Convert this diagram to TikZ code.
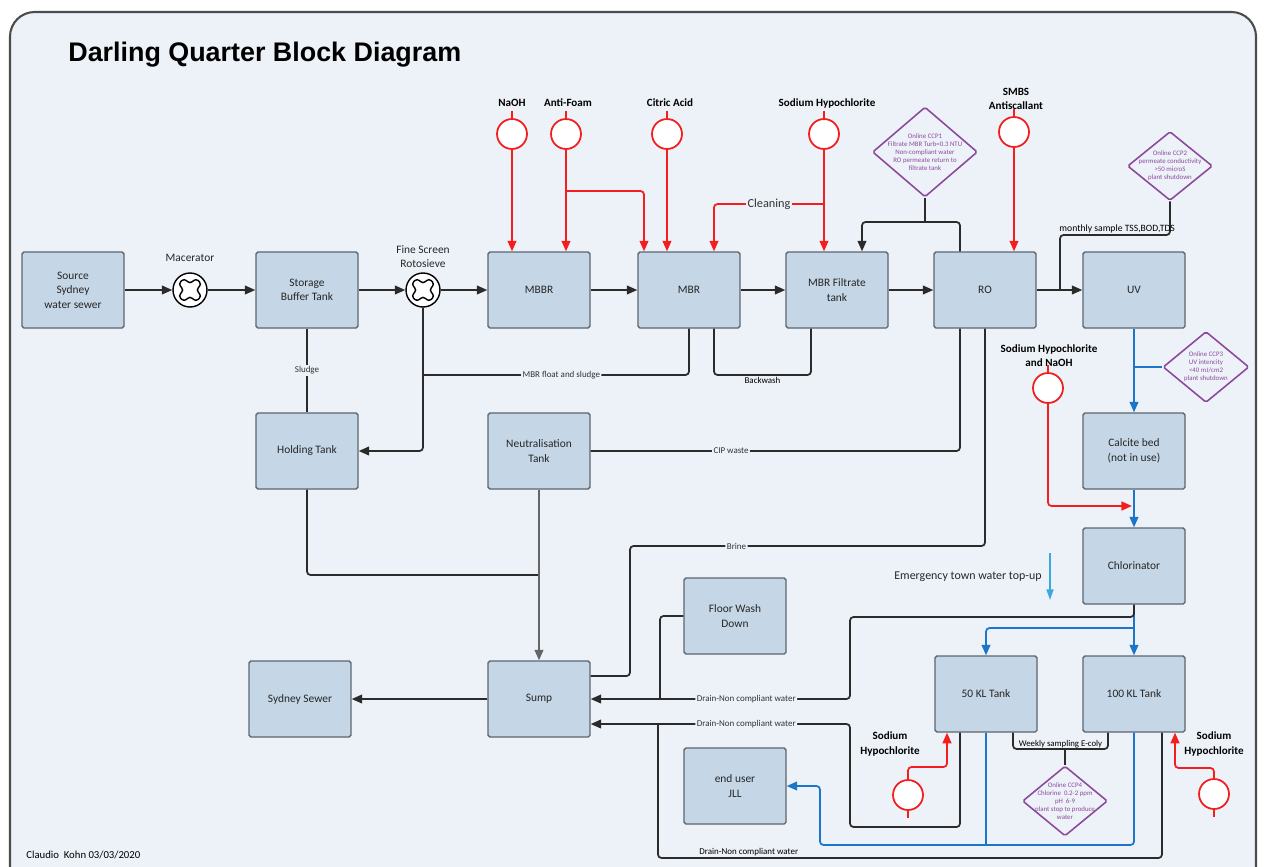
\documentclass[tikz,border=0pt]{standalone}
\usepackage{fontspec}
\setmainfont{Carlito}
\newfontfamily\titlefont{Liberation Sans}
\usetikzlibrary{arrows.meta,shapes.geometric}

\definecolor{bgcol}{HTML}{EDF2F9}
\definecolor{boxcol}{HTML}{C5D6E6}
\definecolor{boxline}{HTML}{5C6670}
\definecolor{chemred}{HTML}{F51E1E}
\definecolor{waterblue}{HTML}{1C75C8}
\definecolor{townblue}{HTML}{3AA9E2}
\definecolor{ccppurple}{HTML}{8C4A9C}
\definecolor{pipe}{HTML}{2B2B2B}

\begin{document}
\begin{tikzpicture}[x=0.02cm, y=-0.02cm,
  block_node/.style={rectangle, draw=boxline, fill=boxcol, line width=0.8pt, rounded corners=1pt, minimum width=2.04cm, minimum height=1.52cm, align=center, font=\fontsize{6.5}{8.2}\selectfont, text=black!85},
  screen_node/.style={circle, draw=black, fill=white, line width=0.8pt, minimum size=0.68cm, inner sep=0pt},
  dose_node/.style={circle, draw=chemred, fill=white, line width=1pt, minimum size=0.6cm, inner sep=0pt},
  ccp_node/.style={diamond, draw=ccppurple, fill=bgcol, line width=0.9pt, inner sep=0pt, rounded corners=1pt},
  ccp_text/.style={text=ccppurple, align=center, font=\fontsize{3.9}{4.6}\selectfont, inner sep=0pt},
  chem_label/.style={align=center, inner sep=0pt, font=\bfseries\fontsize{6.3}{8}\selectfont},
  plain_label/.style={align=center, inner sep=0pt, font=\fontsize{6.5}{8}\selectfont, text=black!85},
  pipe_label/.style={fill=bgcol, inner sep=0.8pt, font=\fontsize{5.1}{6}\selectfont, text=black!80},
  flow/.style={draw=pipe, line width=1pt, rounded corners=2pt},
  flow_arrow/.style={flow, -{Triangle[length=6pt,width=5pt]}},
  dose/.style={draw=chemred, line width=1pt, rounded corners=2pt},
  dose_arrow/.style={dose, -{Triangle[length=6pt,width=5pt]}},
  product/.style={draw=waterblue, line width=1pt, rounded corners=2pt},
  product_arrow/.style={product, -{Triangle[length=6pt,width=5pt]}}]

\useasboundingbox (0,0) rectangle (1264,866);
\clip (0,0) rectangle (1264,866);
\fill[white] (0,0) rectangle (1264,866);
\draw[draw=black!70, fill=bgcol, line width=1.2pt, rounded corners=14pt] (10,12) rectangle (1256,920);

\node[anchor=west, inner sep=0pt, font=\titlefont\bfseries\fontsize{15.3}{18}\selectfont] (title) at (68,55) {Darling Quarter Block Diagram};
\node[anchor=west, inner sep=0pt, font=\fontsize{6.1}{7}\selectfont] (author) at (26,855) {Claudio~ Kohn 03/03/2020};

% process blocks
\node[block_node] (src) at (73,290) {Source\\Sydney\\water sewer};
\node[block_node] (store) at (307,290) {Storage\\Buffer Tank};
\node[block_node] (mbbr) at (539,290) {MBBR};
\node[block_node] (mbr) at (689,290) {MBR};
\node[block_node] (mft) at (837,290) {MBR Filtrate\\tank};
\node[block_node] (ro) at (985,290) {RO};
\node[block_node] (uv) at (1134,290) {UV};
\node[block_node] (hold) at (307,451) {Holding Tank};
\node[block_node] (neut) at (539,451) {Neutralisation\\Tank};
\node[block_node] (calc) at (1134,451) {Calcite bed\\(not in use)};
\node[block_node] (chl) at (1134,566) {Chlorinator};
\node[block_node] (floor) at (735,616) {Floor Wash\\Down};
\node[block_node] (sewer) at (300,699) {Sydney Sewer};
\node[block_node] (sump) at (539,699) {Sump};
\node[block_node] (t50) at (986,694) {50 KL Tank};
\node[block_node] (t100) at (1134,694) {100 KL Tank};
\node[block_node] (user) at (735,786) {end user\\JLL};

% screens
\node[screen_node] (mac) at (190,290) {};
\node[screen_node] (fs) at (423,290) {};
\node[plain_label] (mac_lbl) at (190,258) {Macerator};
\node[plain_label] (fs_lbl) at (423,257) {Fine Screen\\Rotosieve};
\foreach \s in {mac,fs}
  \draw[line width=0.8pt, rounded corners=2pt, shift={(\s)}, rotate=45]
    (4.2,12.5) -- (4.2,4.2) -- (12.5,4.2) -- (12.5,-4.2) -- (4.2,-4.2) -- (4.2,-12.5) -- (-4.2,-12.5)
    -- (-4.2,-4.2) -- (-12.5,-4.2) -- (-12.5,4.2) -- (-4.2,4.2) -- (-4.2,12.5) -- cycle;

% dosing
\node[dose_node] (naoh) at (512,134) {};
\node[dose_node] (foam) at (566,134) {};
\node[dose_node] (citric) at (667,134) {};
\node[dose_node] (hypo) at (824,134) {};
\node[dose_node] (smbs) at (1014,132) {};
\node[dose_node] (hypo_naoh) at (1048,388) {};
\node[dose_node] (hypo50) at (908,795) {};
\node[dose_node] (hypo100) at (1214,794) {};
\node[chem_label] (naoh_lbl) at (512,103) {NaOH};
\node[chem_label] (foam_lbl) at (568,103) {Anti-Foam};
\node[chem_label] (citric_lbl) at (670,103) {Citric Acid};
\node[chem_label] (hypo_lbl) at (827,103) {Sodium Hypochlorite};
\node[chem_label] (smbs_lbl) at (1016,99) {SMBS\\Antiscallant};
\node[chem_label] (hn_lbl) at (1049,356) {Sodium Hypochlorite\\and NaOH};
\node[chem_label] (h50_lbl) at (890,744) {Sodium\\Hypochlorite};
\node[chem_label] (h100_lbl) at (1214,744) {Sodium\\Hypochlorite};

% control points
\node[ccp_node, minimum width=2.1cm, minimum height=1.8cm] (ccp1) at (925,152) {};
\node[ccp_text] (ccp1_txt) at (ccp1) {Online CCP1\\Filtrate MBR Turb=0.3 NTU\\Non-compliant water\\RO permeate return to\\filtrate tank};
\node[ccp_node, minimum width=1.7cm, minimum height=1.38cm] (ccp2) at (1170,166) {};
\node[ccp_text] (ccp2_txt) at (ccp2) {Online CCP2\\permeate conductivity\\>50 microS\\plant shutdown};
\node[ccp_node, minimum width=1.72cm, minimum height=1.42cm] (ccp3) at (1206,367) {};
\node[ccp_text] (ccp3_txt) at (ccp3) {Online CCP3\\UV intencity\\<40 mJ/cm2\\plant shutdown};
\node[ccp_node, minimum width=1.7cm, minimum height=1.4cm] (ccp4) at (1065,801) {};
\node[ccp_text] (ccp4_txt) at (ccp4) {Online CCP4\\Chlorine~ 0.2-2 ppm\\pH~ 6-9\\plant stop to produce\\water};

\node[plain_label, font=\fontsize{6.8}{8}\selectfont] (em_lbl) at (968,577) {Emergency town water top-up};

\coordinate (foam_br) at (566,191);
\coordinate (clean_br) at (824,204);
\coordinate (ccp1_j) at (925,222);
\coordinate (ccp2_j) at (1060,235);
\coordinate (float_j) at (423,375);
\coordinate (bw_a) at (714,375);
\coordinate (bw_b) at (811,375);
\coordinate (hold_j) at (539,575);
\coordinate (brine_c) at (630,546);
\coordinate (hn_end) at (1132,506);
\coordinate (em_top) at (1050,553);
\coordinate (em_bot) at (1050,600);
\coordinate (blue_j) at (1134,628);
\coordinate (drain1_c) at (850,617);
\coordinate (floor_j) at (660,699);
\coordinate (drain2_c) at (850,827);
\coordinate (drain3_c) at (658,858);
\coordinate (drain3_j) at (658,724);
\coordinate (blue_b) at (820,845);
\coordinate (wk_b) at (1108,749);
\coordinate (hypo50_c) at (908,767);
\coordinate (hypo100_c) at (1214,768);

\foreach \a/\b in {src/mac, mac/store, store/fs, fs/mbbr, mbbr/mbr, mbr/mft, mft/ro, ro/uv}
  \draw[flow_arrow] (\a) -- (\b);

\foreach \d in {naoh,foam,citric,hypo,smbs,hypo_naoh}
  \draw[dose] (\d.north) -- ++(0,-7);
\foreach \d in {hypo50,hypo100}
  \draw[dose] (\d.south) -- ++(0,7);
\foreach \d/\t in {naoh/mbbr, foam/mbbr, citric/mbr, hypo/mft, smbs/ro}
  \draw[dose_arrow] (\d.south) -- (\d.south |- \t.north);
\draw[dose_arrow] (foam_br) -| ([xshift=-0.9cm]mbr.north);
\draw[dose_arrow] (clean_br) -| node[pos=0.25, pipe_label, font=\fontsize{7}{8}\selectfont]{Cleaning} ([xshift=0.5cm]mbr.north);
\draw[dose_arrow] (hypo_naoh.south) |- (hn_end);
\draw[dose_arrow] (hypo50.north) -- (hypo50_c) -| ([xshift=-0.78cm]t50.south);
\draw[dose_arrow] (hypo100.north) -- (hypo100_c) -| ([xshift=0.82cm]t100.south);

\draw[flow] (ccp1.south) -- (ccp1_j);
\draw[flow_arrow] (ccp1_j) -| ([xshift=0.5cm]mft.north);
\draw[flow] (ccp1_j) -| ([xshift=-0.5cm]ro.north);
\draw[flow] (ccp2.south) |- node[pos=0.74, above=0.5pt, inner sep=0pt, font=\fontsize{5.5}{6}\selectfont]{monthly sample TSS,BOD,TDS} (ccp2_j) -- (ccp2_j |- uv.west);

\draw[flow] (store) -- node[pipe_label]{Sludge} (hold);
\draw[flow_arrow] (fs.south) |- (hold.east);
\draw[flow] (mbr.south) |- node[pos=0.74, pipe_label]{MBR float and sludge} (float_j);
\draw[flow] ([xshift=0.5cm]mbr.south) -- (bw_a) -- node[below=1pt, inner sep=0pt, font=\fontsize{5.1}{6}\selectfont]{Backwash} (bw_b) -- (bw_b |- mft.south);
\draw[flow] ([xshift=-0.5cm]ro.south) |- node[pos=0.81, pipe_label]{CIP waste} (neut.east);
\draw[flow] (ro.south) |- node[pos=0.85, pipe_label]{Brine} (brine_c) |- ([yshift=0.46cm]sump.east);
\draw[flow] (hold.south) |- (hold_j);
\draw[flow_arrow, draw=black!60] (neut) -- (sump);
\draw[flow_arrow] (sump) -- (sewer);

\draw[product_arrow] (uv) -- (calc);
\draw[product_arrow] (calc) -- (chl);
\draw[product] (ccp3.west) -- (ccp3.west -| uv.south);
\draw[product_arrow] (chl.south) -- (t100.north);
\draw[product_arrow] (blue_j) -| (t50.north);
\draw[product_arrow] (t100.south) |- (blue_b) |- (user.east);
\draw[product] (t50.south) -- (t50.south |- blue_b);
\draw[draw=townblue, line width=0.8pt, -{Triangle[length=6pt,width=4pt]}] (em_top) -- (em_bot);

\draw[flow_arrow] (chl.south) |- (drain1_c) |- node[pos=0.7, pipe_label]{Drain-Non compliant water} (sump.east);
\draw[flow] (floor.west) -| (floor_j);
\draw[flow_arrow] ([xshift=-0.52cm]t50.south) |- (drain2_c) |- node[pos=0.7, pipe_label]{Drain-Non compliant water} ([yshift=-0.5cm]sump.east);
\draw[flow] ([xshift=0.56cm]t100.south) |- node[pos=0.91, above=0.5pt, inner sep=0pt, font=\fontsize{5.1}{6}\selectfont]{Drain-Non compliant water} (drain3_c) -- (drain3_j);
\draw[flow] ([xshift=0.54cm]t50.south) |- node[pos=0.75, above=0.3pt, inner sep=0pt, font=\fontsize{5}{6}\selectfont]{Weekly sampling E-coly} (wk_b) -- ([xshift=-0.52cm]t100.south);
\draw[flow] (ccp4.north) -- (ccp4.north |- wk_b);

\end{tikzpicture}
\end{document}
